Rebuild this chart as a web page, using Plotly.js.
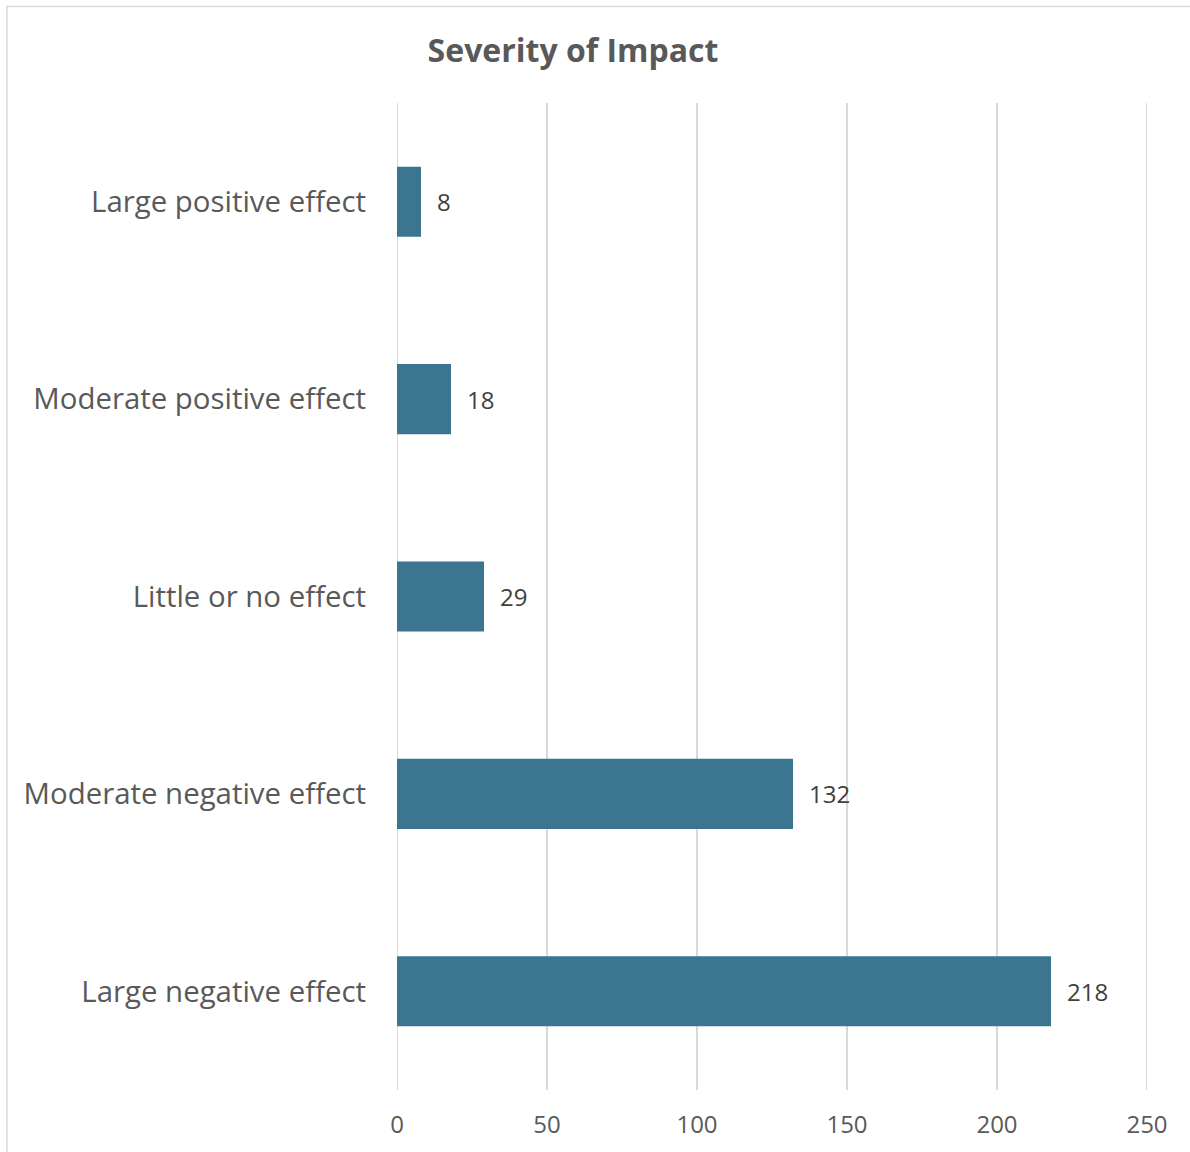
<!DOCTYPE html>
<html>
<head>
<meta charset="utf-8">
<script src="https://cdn.plot.ly/plotly-3.0.1.min.js"></script>
<style>
html, body { margin: 0; padding: 0; background: #ffffff; }
#chart { width: 1190px; height: 1152px; }
</style>
</head>
<body>
<div id="chart"></div>
<script>
const categories = [
  "Large negative effect",
  "Moderate negative effect",
  "Little or no effect",
  "Moderate positive effect",
  "Large positive effect"
];
const counts = [218, 132, 29, 18, 8];
const xTicks = [0, 50, 100, 150, 200, 250];

const barColor = "#3C7590";
const gridColor = "#d9d9d9";
const fontFamily = "'Open Sans', 'Noto Sans', sans-serif";

const trace = {
  type: "bar",
  orientation: "h",
  y: categories,
  x: counts,
  marker: { color: barColor },
  width: 0.355,
  hoverinfo: "x+y"
};

const annotations = categories.map((c, i) => ({
  x: counts[i],
  y: c,
  xref: "x",
  yref: "y",
  text: String(counts[i]),
  showarrow: false,
  xanchor: "left",
  yanchor: "middle",
  xshift: 14,
  font: { family: fontFamily, size: 24, color: "#404040" }
}));

// gridlines at the range edges (Plotly omits them at the plot borders)
const edgeLines = [xTicks[0], xTicks[xTicks.length - 1]].map(v => ({
  type: "line",
  xref: "x",
  yref: "paper",
  x0: v, x1: v, y0: 0, y1: 1,
  line: { color: gridColor, width: 2 },
  layer: "below"
}));

const layout = {
  width: 1190,
  height: 1152,
  margin: { l: 397, r: 43, t: 103, b: 62 },
  paper_bgcolor: "#ffffff",
  plot_bgcolor: "#ffffff",
  showlegend: false,
  title: {
    text: "<b>Severity of Impact</b>",
    font: { family: fontFamily, size: 32, color: "#595959" },
    x: 573 / 1190,
    xref: "container",
    xanchor: "center",
    y: 1 - 51 / 1152,
    yref: "container",
    yanchor: "middle"
  },
  xaxis: {
    range: [xTicks[0], xTicks[xTicks.length - 1]],
    tickvals: xTicks,
    ticktext: xTicks.map(String),
    showgrid: true,
    gridcolor: gridColor,
    gridwidth: 1.5,
    zeroline: false,
    showline: false,
    ticks: "",
    ticklabelstandoff: 18,
    tickfont: { family: fontFamily, size: 24, color: "#595959" },
    fixedrange: true
  },
  yaxis: {
    categoryorder: "array",
    categoryarray: categories,
    showgrid: false,
    zeroline: false,
    showline: false,
    ticks: "",
    ticklabelstandoff: 30,
    tickfont: { family: fontFamily, size: 29.4, color: "#595959" },
    fixedrange: true
  },
  annotations: annotations,
  shapes: edgeLines.concat([
    {
      type: "path",
      xref: "paper",
      yref: "paper",
      path: "M " + ((7 - 397) / 750) + " " + ((1090 - 1160) / 987) +
            " L " + ((7 - 397) / 750) + " " + ((1090 - 6.5) / 987) +
            " L " + ((1200 - 397) / 750) + " " + ((1090 - 6.5) / 987),
      line: { color: gridColor, width: 1.5 },
      layer: "below"
    }
  ])
};

Plotly.newPlot("chart", [trace], layout, { displayModeBar: false, staticPlot: true });
</script>
</body>
</html>
